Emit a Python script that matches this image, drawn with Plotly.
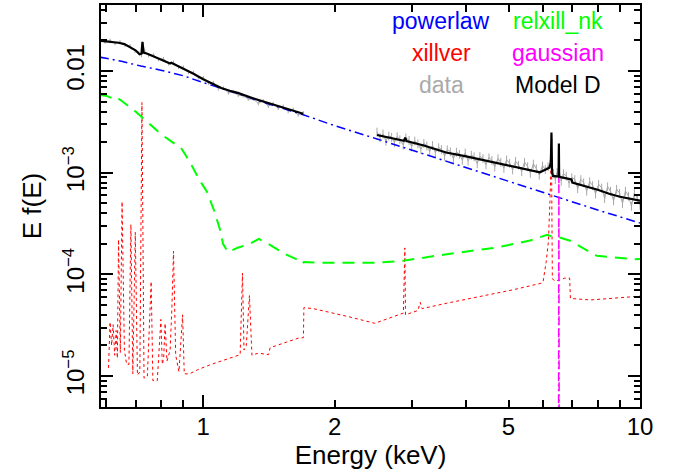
import plotly.graph_objects as go

# ---------------- data ----------------
# observed spectrum, soft band
data1_E = [0.580, 0.596, 0.612, 0.628, 0.645, 0.662, 0.680, 0.698, 0.712, 0.722, 0.728, 0.735,
           0.750, 0.770, 0.790, 0.811, 0.833, 0.855, 0.878, 0.901, 0.925, 0.950, 0.975, 1.001,
           1.028, 1.055, 1.083, 1.112, 1.142, 1.172, 1.203, 1.235, 1.268, 1.302, 1.337, 1.372,
           1.409, 1.446, 1.485, 1.524, 1.565, 1.607, 1.650, 1.694]
data1_F = [0.0206, 0.0193, 0.0201, 0.0187, 0.0194, 0.0179, 0.0177, 0.0157, 0.0151, 0.0143, 0.0185, 0.0156,
           0.0142, 0.0144, 0.0130, 0.0132, 0.0118, 0.0122, 0.0109, 0.0109, 0.0097, 0.0097, 0.0086, 0.0086,
           0.0076, 0.0077, 0.0067, 0.0068, 0.0061, 0.0062, 0.0058, 0.0057, 0.0053, 0.0053, 0.0048, 0.0051,
           0.0045, 0.0048, 0.0043, 0.0045, 0.0040, 0.0042, 0.0037, 0.0039]
# observed spectrum, hard band
data2_E = [2.50, 2.54, 2.58, 2.62, 2.66, 2.70, 2.74, 2.78, 2.82, 2.87, 2.91, 2.96, 3.00, 3.05, 3.10,
           3.15, 3.20, 3.25, 3.30, 3.35, 3.40, 3.46, 3.51, 3.57, 3.62, 3.68, 3.74, 3.80, 3.86, 3.92,
           3.98, 4.04, 4.11, 4.17, 4.24, 4.30, 4.37, 4.44, 4.51, 4.58, 4.65, 4.73, 4.80, 4.88, 4.95,
           5.03, 5.11, 5.19, 5.27, 5.36, 5.44, 5.53, 5.61, 5.70, 5.79, 5.88, 5.98, 6.07, 6.16, 6.22,
           6.26, 6.28, 6.30, 6.34, 6.40, 6.46, 6.50, 6.52, 6.54, 6.60, 6.68, 6.78, 6.88, 6.98, 7.09,
           7.20, 7.32, 7.43, 7.55, 7.67, 7.79, 7.91, 8.04, 8.17, 8.30, 8.43, 8.56, 8.70, 8.84, 8.98,
           9.12, 9.26, 9.41, 9.56, 9.71, 9.86, 10.0]
data2_F = [2.52e-3, 2.22e-3, 2.41e-3, 2.05e-3, 2.30e-3, 2.24e-3, 1.98e-3, 2.27e-3, 2.12e-3, 1.88e-3,
           2.21e-3, 2.09e-3, 1.80e-3, 2.06e-3, 1.93e-3, 1.70e-3, 1.95e-3, 1.84e-3, 1.62e-3, 1.86e-3,
           1.58e-3, 1.77e-3, 1.70e-3, 1.46e-3, 1.69e-3, 1.61e-3, 1.38e-3, 1.60e-3, 1.52e-3, 1.33e-3,
           1.57e-3, 1.31e-3, 1.49e-3, 1.44e-3, 1.23e-3, 1.45e-3, 1.38e-3, 1.20e-3, 1.41e-3, 1.33e-3,
           1.14e-3, 1.38e-3, 1.27e-3, 1.11e-3, 1.34e-3, 1.24e-3, 1.07e-3, 1.30e-3, 1.19e-3, 1.03e-3,
           1.27e-3, 1.15e-3, 0.99e-3, 1.22e-3, 1.10e-3, 0.95e-3, 1.17e-3, 1.08e-3, 1.15e-3, 1.22e-3,
           1.52e-3, 2.15e-3, 1.09e-3, 0.99e-3, 0.86e-3, 1.01e-3, 0.97e-3, 1.70e-3, 1.00e-3, 0.83e-3,
           0.98e-3, 0.93e-3, 0.79e-3, 0.90e-3, 0.86e-3, 0.70e-3, 0.86e-3, 0.80e-3, 0.66e-3, 0.82e-3,
           0.75e-3, 0.62e-3, 0.77e-3, 0.71e-3, 0.56e-3, 0.73e-3, 0.66e-3, 0.53e-3, 0.69e-3, 0.63e-3,
           0.50e-3, 0.66e-3, 0.59e-3, 0.47e-3, 0.63e-3, 0.56e-3, 0.48e-3]

# Model D (total model)
modelD_E = [0.58, 0.60, 0.62, 0.64, 0.66, 0.68, 0.70, 0.715, 0.722, 0.726, 0.730, 0.745, 0.77, 0.80,
            0.83, 0.84, 0.845, 0.87, 0.90, 0.95, 1.00, 1.05, 1.10, 1.15, 1.20, 1.30, 1.40, 1.50, 1.60, 1.694,
            None,
            2.50, 2.70, 2.88, 2.90, 2.92, 3.20, 3.60, 4.00, 4.50, 5.00, 5.50, 5.90, 6.10, 6.20, 6.25,
            6.27, 6.29, 6.32, 6.45, 6.51, 6.52, 6.53, 6.70, 6.90, 6.97, 7.0, 7.5, 8.0, 8.5, 9.0, 10.0]
modelD_F = [0.0199, 0.0196, 0.0193, 0.0190, 0.0184, 0.0173, 0.0160, 0.0146, 0.0148, 0.0194, 0.0152,
            0.0148, 0.0140, 0.0131, 0.0122, 0.0119, 0.0121, 0.0114, 0.0106, 0.0094, 0.0083, 0.0075,
            0.0068, 0.0064, 0.0061, 0.0054, 0.0049, 0.0045, 0.0041, 0.0038,
            None,
            0.00235, 0.00219, 0.00206, 0.00221, 0.00205, 0.00185, 0.00158, 0.00145, 0.00130, 0.00118,
            0.00108, 0.00101, 0.00108, 0.00112, 0.00125, 0.00249, 0.00100, 0.00093, 0.00092, 0.00092,
            0.00194, 0.00091, 0.00089, 0.00087, 0.00086, 0.00080, 0.00074, 0.00068, 0.00062, 0.00058,
            0.00053]

# powerlaw component
pl_E = [0.58, 0.65, 0.72, 0.80, 0.90, 1.00, 1.20, 1.40, 1.70, 2.00, 2.50, 3.00, 4.00, 5.00,
        6.00, 7.00, 8.00, 10.0]
pl_F = [0.0137, 0.0125, 0.0112, 0.0102, 0.0090, 0.0077, 0.0060, 0.0048, 0.0037, 0.0029, 0.00215,
        0.00167, 0.00112, 0.00082, 0.00064, 0.00052, 0.00043, 0.00032]

# relxill_nk component
rel_E = [0.58, 0.60, 0.62, 0.63, 0.65, 0.70, 0.73, 0.80, 0.85, 0.89, 0.93, 0.98, 1.02, 1.06, 1.094,
         1.11, 1.14, 1.20, 1.28, 1.34, 1.40, 1.49, 1.55, 1.64, 1.68, 1.70, 1.85, 2.20, 2.47, 2.87,
         3.61, 4.70, 5.60, 6.13, 6.30, 6.55, 6.92, 7.96, 8.70, 9.66, 10.0]
rel_F = [5.8e-3, 5.7e-3, 5.4e-3, 5.6e-3, 5.1e-3, 4.0e-3, 3.4e-3, 2.4e-3, 2.0e-3, 1.75e-3, 1.3e-3,
         8.5e-4, 6.5e-4, 4.2e-4, 2.7e-4, 2.0e-4, 1.65e-4, 1.83e-4, 2.0e-4, 2.23e-4, 2.03e-4, 1.71e-4,
         1.56e-4, 1.40e-4, 1.27e-4, 1.32e-4, 1.30e-4, 1.30e-4, 1.30e-4, 1.36e-4, 1.58e-4, 1.84e-4,
         2.15e-4, 2.45e-4, 2.35e-4, 2.30e-4, 2.14e-4, 1.52e-4, 1.47e-4, 1.41e-4, 1.42e-4]

# xillver component
xil_E = [0.607, 0.612, 0.617, 0.622, 0.627, 0.632, 0.636, 0.640, 0.646, 0.652, 0.660, 0.668, 0.676,
         0.683, 0.690, 0.699, 0.707, 0.716, 0.724, 0.732, 0.745, 0.760, 0.767, 0.785, 0.800, 0.806,
         0.812, 0.818, 0.826, 0.840, 0.848, 0.855, 0.865, 0.880, 0.897, 0.905, 0.93, 0.97, 1.037,
         1.10, 1.215, 1.230, 1.240, 1.255, 1.276, 1.293, 1.338, 1.411, 1.423, 1.55, 1.652, 1.696,
         1.70, 1.787, 1.852, 2.17, 2.47, 2.873, 2.895, 2.905, 3.00, 3.10, 3.14, 3.17, 3.61, 4.31,
         5.13, 5.96, 6.00, 6.10, 6.17, 6.22, 6.25, 6.27, 6.30, 6.40, 6.55, 6.73, 6.90, 6.93, 7.69,
         8.5, 10.0]
xil_F = [1.2e-5, 3.4e-5, 2.0e-5, 3.2e-5, 1.6e-5, 2.8e-5, 1.5e-5, 2.2e-4, 1.7e-5, 5.2e-4, 1.8e-5,
         1.3e-5, 1.3e-5, 3.1e-4, 1.05e-5, 2.6e-4, 1.02e-5, 1.1e-5, 4.9e-3, 9.5e-6, 1.0e-5, 8.5e-5,
         9.0e-6, 9.0e-6, 3.6e-5, 1.3e-5, 1.5e-5, 3.3e-5, 1.4e-5, 1.8e-5, 4.8e-5, 1.69e-4, 1.6e-5,
         1.1e-5, 4.0e-5, 1.05e-5, 1.05e-5, 1.15e-5, 1.29e-5, 1.4e-5, 1.62e-5, 1.03e-4, 1.8e-5,
         2.0e-5, 6.2e-5, 1.6e-5, 1.68e-5, 1.62e-5, 1.9e-5, 2.15e-5, 2.36e-5, 2.38e-5, 4.7e-5,
         4.6e-5, 4.45e-5, 3.8e-5, 3.3e-5, 4.16e-5, 1.82e-4, 4.0e-5, 4.2e-5, 4.4e-5, 5.3e-5, 4.6e-5,
         5.2e-5, 6.07e-5, 7.06e-5, 8.2e-5, 8.5e-5, 1.34e-4, 2.11e-4, 5.2e-4, 8.9e-4, 1.75e-3,
         9.0e-5, 8.6e-5, 8.8e-5, 9.2e-5, 9.2e-5, 5.8e-5, 5.6e-5, 5.8e-5, 6.1e-5]

# gaussian component
gau_E = [6.505, 6.52, 6.535]
gau_F = [1e-7, 1.0e-3, 1e-7]

# axis ticks
x_major = [1, 2, 5, 10]
x_major_text = ["1", "2", "5", "10"]
x_minor = [0.6, 0.7, 0.8, 0.9, 3, 4, 6, 7, 8, 9]
y_major = [1e-5, 1e-4, 1e-3, 1e-2]
y_major_text = ["10<sup>\u22125</sup>", "10<sup>\u22124</sup>", "10<sup>\u22123</sup>", "0.01"]
y_minor = [m * d for d in (1e-6, 1e-5, 1e-4, 1e-3, 1e-2) for m in range(2, 10)
           if 5e-6 <= m * d <= 0.045]

FONT = "Liberation Sans, Arial, Helvetica, sans-serif"
GRAY = "#a8a8a8"

fig = go.Figure()

fig.add_trace(go.Scatter(x=data1_E, y=data1_F, mode="lines", line=dict(color=GRAY, width=1),
                         error_y=dict(type="percent", value=4, color=GRAY, thickness=1, width=0),
                         showlegend=False))
fig.add_trace(go.Scatter(x=data2_E, y=data2_F, mode="lines", line=dict(color=GRAY, width=1),
                         error_y=dict(type="percent", value=10, color=GRAY, thickness=1, width=0),
                         showlegend=False))
fig.add_trace(go.Scatter(x=xil_E, y=xil_F, mode="lines",
                         line=dict(color="#ff0000", width=1, dash="dot"), showlegend=False))
fig.add_trace(go.Scatter(x=rel_E, y=rel_F, mode="lines",
                         line=dict(color="#00ff00", width=2, dash="12px,8px"), showlegend=False))
fig.add_trace(go.Scatter(x=pl_E, y=pl_F, mode="lines",
                         line=dict(color="#0000ff", width=1.5, dash="9px,4px,2px,4px"),
                         showlegend=False))
fig.add_trace(go.Scatter(x=gau_E, y=gau_F, mode="lines",
                         line=dict(color="#ff00ff", width=1.5, dash="9px,3px,2px,3px,2px,3px"),
                         showlegend=False))
fig.add_trace(go.Scatter(x=modelD_E, y=modelD_F, mode="lines", connectgaps=False,
                         line=dict(color="black", width=2.2), showlegend=False))
# overlay axis used only for the long decade ticks
fig.add_trace(go.Scatter(x=[1], y=[1e-3], xaxis="x2", mode="markers",
                         marker=dict(opacity=0), hoverinfo="skip", showlegend=False))

xr = [-0.234, 1.0]
yr = [-5.305, -1.35]

fig.update_layout(
    width=680, height=474,
    margin=dict(l=101, r=40, t=5, b=67, autoexpand=False),
    paper_bgcolor="white", plot_bgcolor="white",
    font=dict(family=FONT, color="black"),
    xaxis=dict(type="log", range=xr, showgrid=False, zeroline=False, automargin=False,
               showline=True, linecolor="black", linewidth=2, mirror="ticks",
               ticks="inside", ticklen=7, tickwidth=1.5, tickcolor="black",
               tickmode="array", tickvals=x_major, ticktext=x_major_text,
               tickfont=dict(size=24, family=FONT), ticklabelstandoff=-3,
               minor=dict(tickmode="array", tickvals=x_minor, ticks="inside", ticklen=7,
                          tickwidth=1.5, tickcolor="black", showgrid=False),
               title=dict(text="Energy (keV)", font=dict(size=26, family=FONT), standoff=7)),
    xaxis2=dict(type="log", range=xr, overlaying="x", anchor="y", side="bottom",
                showgrid=False, zeroline=False, showline=False, mirror="ticks",
                ticks="inside", ticklen=12, tickwidth=1.5, tickcolor="black",
                tickmode="array", tickvals=[1, 10], showticklabels=False),
    yaxis=dict(type="log", range=yr, showgrid=False, zeroline=False, automargin=False,
               showline=True, linecolor="black", linewidth=2, mirror="ticks",
               ticks="inside", ticklen=12, tickwidth=1.5, tickcolor="black",
               tickmode="array", tickvals=y_major, ticktext=y_major_text, tickangle=-90,
               tickfont=dict(size=24, family=FONT), ticklabelstandoff=5,
               minor=dict(tickmode="array", tickvals=y_minor, ticks="inside", ticklen=6,
                          tickwidth=1.5, tickcolor="black", showgrid=False),
               title=dict(text="E f(E)", font=dict(size=26, family=FONT), standoff=10)),
)

legend_items = [
    ("powerlaw", "#0000ff", 0.631, 0.9595),
    ("relxill_nk", "#00ff00", 0.848, 0.9595),
    ("xillver", "#ff0000", 0.631, 0.8806),
    ("gaussian", "#ff00ff", 0.848, 0.8806),
    ("data", "#aaaaaa", 0.631, 0.8017),
    ("Model D", "black", 0.848, 0.8017),
]
for txt, col, px, py in legend_items:
    fig.add_annotation(text=txt, x=px, y=py, xref="paper", yref="paper",
                       xanchor="center", yanchor="middle", showarrow=False,
                       font=dict(size=23, color=col, family=FONT))

fig.write_html("out.html", config={"displayModeBar": False},
               post_script="document.body.style.margin='0px';")
